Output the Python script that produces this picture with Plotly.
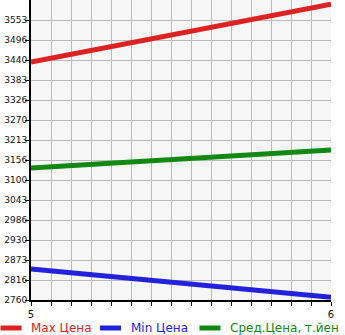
import plotly.graph_objects as go

x_vals = [5, 6]
max_price = [3434, 3598]
min_price = [2848, 2768]
avg_price = [3134, 3185]
y_tick_labels = ["2760", "2816", "2873", "2930", "2986", "3043", "3100", "3156",
                 "3213", "3270", "3326", "3383", "3440", "3496", "3553"]
y_tick_vals = [2760 + i * 56.64 for i in range(len(y_tick_labels))]
series_names = ["Max Цена", "Min Цена", "Сред.Цена, т.йен"]
series_colors = ["#dd2222", "#2222dd", "#118811"]

PLOT_L, PLOT_W, PLOT_H = 31, 300, 300

def px_to_paper_x(px):
    return (px - PLOT_L) / PLOT_W

def px_to_paper_y(py):
    return (PLOT_H - py) / PLOT_H

fig = go.Figure()
for name, vals, col in zip(series_names, [max_price, min_price, avg_price], series_colors):
    fig.add_trace(go.Scatter(
        x=x_vals, y=vals, mode="lines", name=name,
        line=dict(color=col, width=5),
    ))

# custom legend row (text kept as real text)
legend_y = px_to_paper_y(328)
for i, (name, col) in enumerate(zip(series_names, series_colors)):
    x0 = i * 99.5
    fig.add_shape(type="line", xref="paper", yref="paper",
                  x0=px_to_paper_x(x0 + 0.5), x1=px_to_paper_x(x0 + 21.5),
                  y0=legend_y, y1=legend_y,
                  line=dict(color=col, width=5))
    fig.add_annotation(xref="paper", yref="paper", x=px_to_paper_x(x0 + 29),
                       y=legend_y, xanchor="left", yanchor="middle",
                       text=name, showarrow=False,
                       font=dict(size=12, color=col, family="DejaVu Sans"))

fig.update_layout(
    width=345, height=335,
    margin=dict(l=31, r=14, t=0, b=35, autoexpand=False),
    paper_bgcolor="white",
    plot_bgcolor="#f6f6f6",
    font=dict(family="DejaVu Sans", size=10, color="#111"),
    showlegend=False,
)
fig.update_xaxes(
    range=[5, 6], tickvals=[5, 6], ticktext=["5", "6"],
    showgrid=True, gridcolor="#bbbbbb", gridwidth=1,
    showline=True, linecolor="black", linewidth=2,
    ticks="outside", ticklen=4, tickcolor="black",
    minor=dict(dtick=1/15, showgrid=True, gridcolor="#bbbbbb",
               ticks="outside", ticklen=4, tickcolor="black"),
    zeroline=False, tickfont=dict(size=10),
)
fig.update_yaxes(
    range=[2760, 2760 + 15 * 56.64], tickvals=y_tick_vals, ticktext=y_tick_labels,
    showgrid=True, gridcolor="#bbbbbb", gridwidth=1,
    showline=True, linecolor="black", linewidth=2,
    ticks="outside", ticklen=4, tickcolor="black",
    ticklabelstandoff=-4,
    zeroline=False, tickfont=dict(size=9),
)
fig.write_html("out.html")
